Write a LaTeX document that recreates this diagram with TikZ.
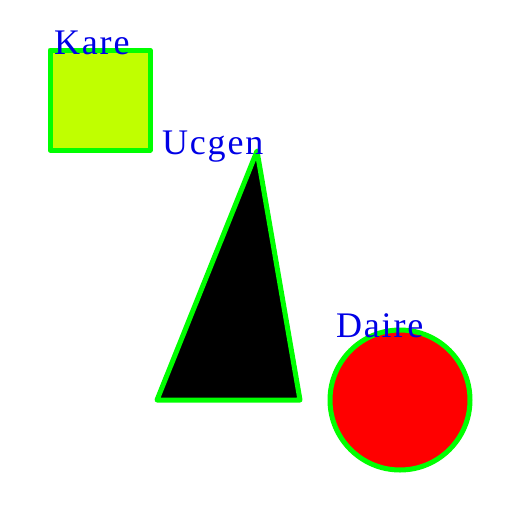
\documentclass[tikz,border=0pt]{standalone}
\usepackage{fontspec}
\newfontfamily\labelfont[LetterSpace=5]{Liberation Serif}
\definecolor{edgegreen}{RGB}{0,255,0}
\definecolor{limey}{RGB}{192,255,0}
\definecolor{lblue}{RGB}{0,0,230}
\tikzset{
  figshape/.style={draw=edgegreen, line width=5pt, line join=round},
  lbl/.style={text=lblue, font=\labelfont\fontsize{36}{36}\selectfont, inner sep=0pt, anchor=base west}
}
\begin{document}
\begin{tikzpicture}[x=1pt,y=-1pt]
\useasboundingbox (0,0) rectangle (512,512);
\fill[white] (0,0) rectangle (512,512);
\draw[figshape, fill=limey] (50,50) rectangle (150,150);
\node[lbl] (kare) at (54,54) {Kare};
\draw[figshape, fill=black] (257,151) -- (157,400) -- (300,400) -- cycle;
\node[lbl] (ucgen) at (162,154) {Ucgen};
\draw[figshape, fill=red] (400,400) circle (70);
\node[lbl] (daire) at (336,337) {Daire};
\end{tikzpicture}
\end{document}
